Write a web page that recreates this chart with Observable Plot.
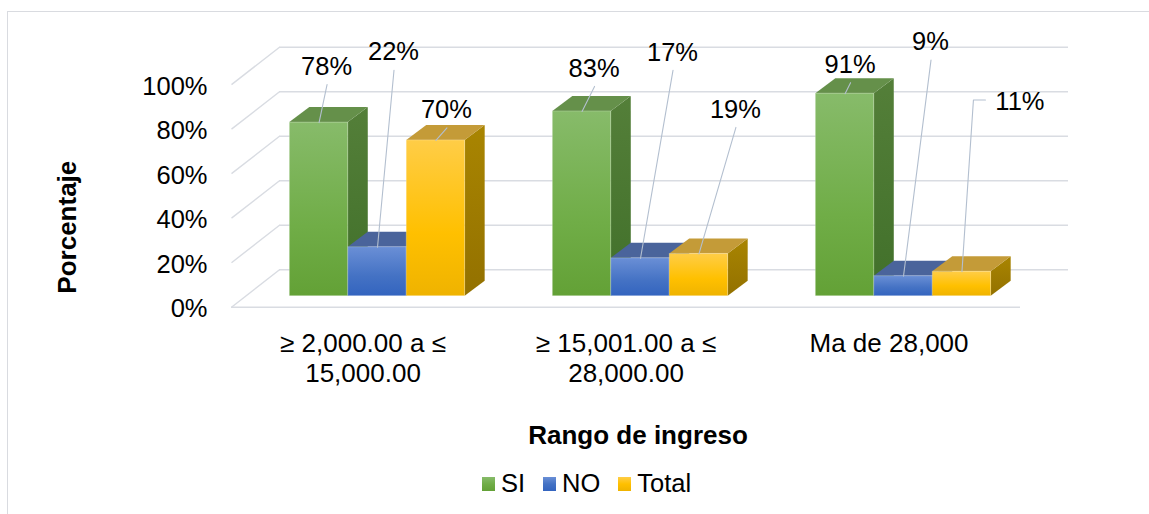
<!DOCTYPE html>
<html>
<head>
<meta charset="utf-8">
<script src="https://cdn.jsdelivr.net/npm/d3@7"></script>
<script src="https://cdn.jsdelivr.net/npm/@observablehq/plot@0.6"></script>
<style>
  body { margin: 0; background: #fff; }
  #chart { position: relative; width: 1149px; height: 514px; overflow: hidden; background: #fff;
           font-family: "Liberation Sans", Arial, Helvetica, sans-serif; color: #000; }
  #legend { position: absolute; left: 482px; top: 470px; height: 28px; display: flex; align-items: center;
            font-size: 25.5px; line-height: 1; }
  #legend .item { display: flex; align-items: center; margin-right: 18px; }
  #legend .key { width: 13px; height: 14px; margin-right: 6px; }
  #border { position: absolute; left: 7px; top: 11px; width: 1300px; height: 700px;
            border: 1px solid #d9dbe0; pointer-events: none; }
</style>
</head>
<body>
<div id="chart">
  <div id="plot"></div>
  <div id="legend"></div>
  <div id="border"></div>
</div>
<script>
// ---- data ----
const categories = ["≥ 2,000.00 a ≤ 15,000.00", "≥ 15,001.00 a ≤ 28,000.00", "Ma de 28,000"];
const seriesNames = ["SI", "NO", "Total"];
const siValues = [0.78, 0.83, 0.91];
const noValues = [0.22, 0.17, 0.09];
const totalValues = [0.70, 0.19, 0.11];
const yTicks = [0, 0.2, 0.4, 0.6, 0.8, 1];
const xTitle = "Rango de ingreso";
const yTitle = "Porcentaje";

// ---- presentation ----
// manual label placement: pixel nudge from each bar's top-front centre, [series][category]
const labelNudge = [
  [[7.5, -57], [12, -44], [5, -30]],
  [[16, -196], [32, -207], [27, -235]],
  [[10.5, -31.5], [36.5, -145.5], [58, -171]]
];
// face colours per series: front gradient, side gradient, top face
const palette = [
  {front: ["#87bb6a", "#70ad47", "#63a136"], side: ["#547f39", "#41702a"], top: "#65904a"},
  {front: ["#6a8fd6", "#4472c4", "#3364bf"], side: ["#30538f", "#294983"], top: "#4a649b"},
  {front: ["#ffcd47", "#ffc000", "#efb300"], side: ["#a98501", "#937100"], top: "#c49b38"}
];
const FONT = "'Liberation Sans', Arial, Helvetica, sans-serif";
const GRID = "#d9dce2";
const LEADER = "#b3bfcf";

const WIDTH = 1149, HEIGHT = 460;
const LEFT = 231, RIGHT = 1020, FLOOR = 306.7, CEIL = 84.1;
const kx = (RIGHT - LEFT) / categories.length;   // pixels per category
const ky = FLOOR - CEIL;                          // pixels per 100%
const ux = p => p / kx, uy = p => p / ky;

// 3-D geometry, in pixels
const WALL = [48, 37.4];    // back wall behind the floor's front edge
const SHIFT = [14.5, 11];   // bars' front plane behind the floor's front edge
const DEPTH = [20, 15];     // bar thickness
const BAR = 2 / 9, GAP = 1 / 6;   // gap width 150%

const values = [siValues, noValues, totalValues];
const pct = d3.format(".0%");

const bars = seriesNames.flatMap((s, k) => values[k].map((v, g) => {
  const x1 = g + GAP + k * BAR + ux(SHIFT[0]);
  const y0 = uy(SHIFT[1]);
  return {series: s, k, g, v, id: `${s}-${g}`, x1, x2: x1 + BAR, y0, y1: y0 + v};
}));
const dX = ux(DEPTH[0]), dY = uy(DEPTH[1]);

// side face: quadrilateral on the right of each bar
const sides = bars.flatMap(b => [
  {k: b.k, id: b.id, x: b.x2, lo: b.y0, hi: b.y1},
  {k: b.k, id: b.id, x: b.x2 + dX, lo: b.y0 + dY, hi: b.y1 + dY}
]);
// top face: parallelogram receding up and to the right
const tops = bars.flatMap(b => [
  {k: b.k, id: b.id, x: b.x1, lo: b.y1, hi: b.y1},
  {k: b.k, id: b.id, x: b.x1 + dX, lo: b.y1, hi: b.y1 + dY},
  {k: b.k, id: b.id, x: b.x2, lo: b.y1, hi: b.y1 + dY},
  {k: b.k, id: b.id, x: b.x2 + dX, lo: b.y1 + dY, hi: b.y1 + dY}
]);

const LABEL_SIZE = 25.5;
const labels = bars.map(b => {
  const [nx, ny] = labelNudge[b.k][b.g];
  const tx = (b.x1 + b.x2) / 2, ty = b.y1;
  return {id: b.id, text: pct(b.v), tx, ty, nx, x: tx + ux(nx), y: ty - uy(ny)};
});
const textWidth = s => [...s].reduce((w, c) => w + (c === "%" ? 0.889 : 0.556), 0) * LABEL_SIZE;

// leader lines: from under the label, or from its left side with a short elbow
const leaders = labels.flatMap(l => {
  if (l.nx > 45) {
    const half = textWidth(l.text) / 2;
    return [
      {id: l.id, x: l.x - ux(half + 9), y: l.y + uy(0.7)},
      {id: l.id, x: l.x - ux(half + 21), y: l.y + uy(0.7)},
      {id: l.id, x: l.tx, y: l.ty}
    ];
  }
  return [{id: l.id, x: l.x + ux(0.5), y: l.y - uy(19)}, {id: l.id, x: l.tx, y: l.ty}];
});

const chart = Plot.plot({
  width: WIDTH,
  height: HEIGHT,
  marginLeft: LEFT,
  marginRight: WIDTH - RIGHT,
  marginTop: CEIL,
  marginBottom: HEIGHT - FLOOR,
  x: {domain: [0, categories.length], axis: null},
  y: {domain: [0, 1], axis: null},
  style: {fontFamily: FONT, color: "#000", background: "transparent", overflow: "visible"},
  marks: [
    // back wall gridlines, left wall diagonals and floor edge
    Plot.ruleY(yTicks, {y: t => t + uy(WALL[1]), x1: ux(WALL[0]), x2: categories.length + ux(WALL[0]), stroke: GRID, strokeWidth: 1.4}),
    Plot.link(yTicks, {x1: 0, y1: t => t, x2: ux(WALL[0]), y2: t => t + uy(WALL[1]), stroke: GRID, strokeWidth: 1.4}),
    Plot.ruleY([0], {x1: 0, x2: categories.length, stroke: GRID, strokeWidth: 1.4}),
    // bars, series by series (left to right inside each group)
    ...seriesNames.flatMap((s, k) => [
      Plot.area(sides.filter(d => d.k === k), {x1: "x", y1: "lo", y2: "hi", z: "id", fill: `url(#side-${k})`}),
      Plot.area(tops.filter(d => d.k === k), {x1: "x", y1: "lo", y2: "hi", z: "id", fill: palette[k].top}),
      Plot.rect(bars.filter(d => d.k === k), {x1: "x1", x2: "x2", y1: "y0", y2: "y1", fill: `url(#front-${k})`,
        stroke: "#ffffff", strokeOpacity: 0.22, strokeWidth: 1})
    ]),
    // data labels with leader lines
    Plot.line(leaders, {x: "x", y: "y", z: "id", stroke: LEADER, strokeWidth: 1.1}),
    Plot.text(labels, {x: "x", y: "y", text: "text", fontSize: LABEL_SIZE, dy: 1}),
    // value axis on the front plane
    Plot.axisY(yTicks, {tickSize: 0, tickPadding: 24, tickFormat: pct, fontSize: 25.5, dy: 2, label: null}),
    // category labels under the floor
    Plot.text(categories, {x: (d, i) => i + 0.5, y: 0, text: d => d, lineWidth: 9, lineHeight: 1.154,
      lineAnchor: "top", textAnchor: "middle", dy: 23.1, fontSize: 26}),
    // axis titles
    Plot.text([yTitle], {text: d => d, frameAnchor: "left", textAnchor: "middle", lineAnchor: "middle",
      rotate: -90, dx: -164.3, dy: 31.3, fontSize: 26, fontWeight: "bold"}),
    Plot.text([xTitle], {text: d => d, frameAnchor: "bottom", textAnchor: "middle", lineAnchor: "middle",
      dx: 12, dy: 128.3, fontSize: 26, fontWeight: "bold"})
  ]
});

// vertical shading gradients for the bar faces
const svg = chart.tagName.toLowerCase() === "svg" ? chart : chart.querySelector("svg");
const NS = "http://www.w3.org/2000/svg";
const defs = document.createElementNS(NS, "defs");
palette.forEach((p, k) => {
  for (const [name, stops] of [["front", p.front], ["side", p.side]]) {
    const lg = document.createElementNS(NS, "linearGradient");
    lg.setAttribute("id", `${name}-${k}`);
    lg.setAttribute("x1", 0); lg.setAttribute("y1", 0);
    lg.setAttribute("x2", 0); lg.setAttribute("y2", 1);
    stops.forEach((c, i) => {
      const st = document.createElementNS(NS, "stop");
      st.setAttribute("offset", stops.length === 3 ? [0, 0.6, 1][i] : i);
      st.setAttribute("stop-color", c);
      lg.appendChild(st);
    });
    defs.appendChild(lg);
  }
});
svg.insertBefore(defs, svg.firstChild);
document.getElementById("plot").appendChild(chart);

// legend
const legend = document.getElementById("legend");
seriesNames.forEach((s, k) => {
  const item = document.createElement("div");
  item.className = "item";
  const key = document.createElement("span");
  key.className = "key";
  key.style.background = `linear-gradient(to bottom, ${palette[k].front.join(", ")})`;
  const label = document.createElement("span");
  label.textContent = s;
  item.append(key, label);
  legend.appendChild(item);
});
</script>
</body>
</html>
